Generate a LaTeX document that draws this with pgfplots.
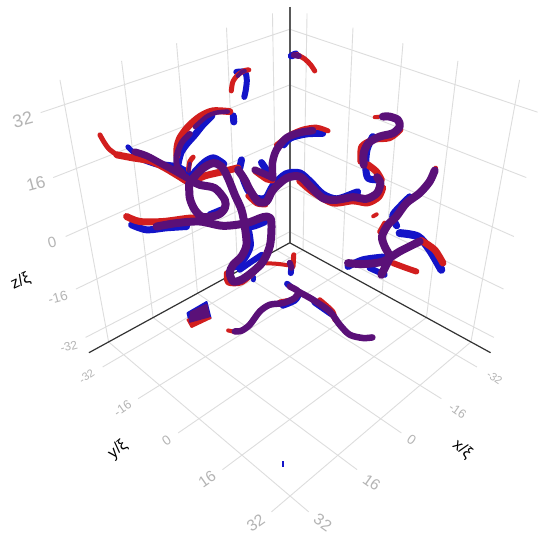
\documentclass[border=0pt]{standalone}
\usepackage{pgfplots}
\pgfplotsset{compat=1.18}
\usepackage{fontspec}
\setmainfont{Liberation Sans}
\definecolor{gr}{HTML}{DDDDDD}
\definecolor{tk}{HTML}{B4B4B4}
\definecolor{bl}{HTML}{1414C8}
\definecolor{rd}{HTML}{D21E1E}
\definecolor{pu}{HTML}{5A1078}
\pgfplotsset{
 g/.style={gr,line width=0.9pt,forget plot},
 ax/.style={color=black!80,line width=1.2pt,forget plot},
 B/.style={bl,line width=#1pt,smooth,tension=0.5,line cap=round,line join=round,forget plot},
 R/.style={rd,line width=#1pt,smooth,tension=0.5,line cap=round,line join=round,forget plot},
 P/.style={pu,line width=#1pt,smooth,tension=0.5,line cap=round,line join=round,forget plot},
}
\begin{document}
\begin{tikzpicture}
\begin{axis}[scale only axis,width=538pt,height=535pt,xmin=0,xmax=538,ymin=0,ymax=535,y dir=reverse,axis lines=none,clip=false]
\addplot[fill=white,draw=none,forget plot] coordinates {(0,0)(538,0)(538,535)(0,535)} -- cycle;
% floor
\addplot[g] coordinates {(309,512.3)(108.7,342.2)};
\addplot[g] coordinates {(357.3,470)(153.2,317.8)};
\addplot[g] coordinates {(401.7,433.3)(197.6,293.5)};
\addplot[g] coordinates {(441.7,399)(237.8,271.6)};
\addplot[g] coordinates {(477.3,367.3)(276.7,250.3)};
\addplot[g] coordinates {(271.7,512.3)(471.3,342.2)};
\addplot[g] coordinates {(222.7,470)(426.8,317.8)};
\addplot[g] coordinates {(178.3,433.3)(382.4,293.5)};
\addplot[g] coordinates {(138.3,399)(342.2,271.6)};
\addplot[g] coordinates {(102.7,367.3)(303.3,250.3)};
% left wall
\addplot[g] coordinates {(108.7,342.2)(60,80)};
\addplot[g] coordinates {(153.2,317.8)(121.7,61)};
\addplot[g] coordinates {(197.6,293.5)(176.7,43.3)};
\addplot[g] coordinates {(237.8,271.6)(226.7,27.7)};
\addplot[g] coordinates {(276.7,250.3)(272.7,13.3)};
\addplot[g] coordinates {(40.7,112.7)(290,29.3)};
\addplot[g] coordinates {(53.3,177.7)(290,85)};
\addplot[g] coordinates {(65.7,236.7)(290,137)};
\addplot[g] coordinates {(76,289.3)(290,186)};
\addplot[g] coordinates {(85.7,337.7)(290,232)};
% right wall
\addplot[g] coordinates {(471.3,342.2)(520,80)};
\addplot[g] coordinates {(426.8,317.8)(458.3,61)};
\addplot[g] coordinates {(382.4,293.5)(403.3,43.3)};
\addplot[g] coordinates {(342.2,271.6)(353.3,27.7)};
\addplot[g] coordinates {(303.3,250.3)(307.3,13.3)};
\addplot[g] coordinates {(538,112.3)(290,29.3)};
\addplot[g] coordinates {(526.7,177.7)(290,85)};
\addplot[g] coordinates {(514.3,236.7)(290,137)};
\addplot[g] coordinates {(504,289.3)(290,186)};
\addplot[g] coordinates {(494.3,337.7)(290,232)};
% axes
\addplot[color=black!65,line width=1.6pt,forget plot] coordinates {(290,7)(290,243)};
\addplot[ax] coordinates {(290,243)(89,353)};
\addplot[ax] coordinates {(290,243)(491,353)};
% blue
\addplot[B=7] coordinates {(212,116)(203,125)(195,135)(187,144)(181,153)(178,165)};
\addplot[B=7] coordinates {(233.5,116)(234,122)};
\addplot[B=5] coordinates {(128,147)(133,152)(140,158)};
\addplot[B=7] coordinates {(140,158)(156.7,164)(176.7,167)(190,174)};
\addplot[B=7] coordinates {(195,172)(205,162)(214,158)(224,164)};
\addplot[B=7] coordinates {(241.7,160)(240,168)};
\addplot[B=7] coordinates {(243,178)(248,190)(256,198)(266,198)(273,186)(286,174)(300,173)(311,182)(323,194)(337,199)(355,193)(358,192)};
\addplot[B=7] coordinates {(373,136.7)(367.3,150)(366,166.7)(368.3,178.3)(378.3,180)};
\addplot[B=7] coordinates {(284,145)(291,138)(307,134)(323,133.5)};
\addplot[B=7] coordinates {(261.7,162.7)(266.7,170)};
\addplot[B=7] coordinates {(131.7,225)(146.7,230)(166.7,228)(186.7,226.7)};
\addplot[B=7] coordinates {(210,215)(222,210)};
\addplot[B=7] coordinates {(249,232)(250.5,246)(245,258)(236,267)};
\addplot[B=6] coordinates {(240,270)(250,263)(262,255)};
\addplot[B=7] coordinates {(245,228)(255,226)(265,222)};
\addplot[B=5] coordinates {(253.3,277)(253.3,280)};
\addplot[B=6] coordinates {(291.7,266.7)(291,273.3)};
\addplot[B=6] coordinates {(236.5,72)(245,72)(247,80)(246,90)(244.5,97)};
\addplot[B=7] coordinates {(291.5,56)(296,54)};
\addplot[B=6] coordinates {(287.3,284)(291,287)};
\addplot[B=6] coordinates {(283,306)(295,301)(299,295)};
\addplot[B=6.5] coordinates {(314.8,302.5)(331.5,314.2)};
\addplot[B=7] coordinates {(410,197)(400,207)(393,216)(397,226)};
\addplot[B=8] coordinates {(400,233.3)(418.3,236.7)(430,250)(441.7,270)};
\addplot[B=7] coordinates {(348.3,266.7)(363.3,260)(383.3,257.3)};
\addplot[B=6] coordinates {(370,268.3)(385,275)};
\addplot[bl,line width=2pt,forget plot] coordinates {(283.7,461.7)(283.7,467.3)};
\addplot[bl,fill=bl,line width=2pt,line join=round,forget plot] coordinates {(187.7,313.3)(206.7,302.3)(210.7,318.3)(190,323.3)} -- cycle;
% red
\addplot[R=7] coordinates {(230,111.7)(213,111)(200,116.7)(188.3,126.7)(180,138)(177.3,146.7)(177,156)};
\addplot[R=5] coordinates {(100,135)(104,142)(109,149)(117,155)};
\addplot[R=7] coordinates {(117,155)(133,158)(150,161)(165,168)(180,177)(190,182)(205,176)(222,172)(238,168)};
\addplot[R=5] coordinates {(193.3,157.3)(190,161.7)(188.7,170)};
\addplot[R=5] coordinates {(248,196)(257,204)(266,205)};
\addplot[R=7] coordinates {(300,181)(313,192)(333,203)(353,201)(368,203)(379,197)(383,188)};
\addplot[R=4] coordinates {(375,117.3)(390,115.7)};
\addplot[R=6] coordinates {(360.7,161.7)(361.7,146.7)(373,140)(390,138.3)(400.7,130)};
\addplot[R=7] coordinates {(368.3,165)(376.7,171.7)(381.7,180)};
\addplot[R=5] coordinates {(276.7,145)(290,135)(303,129.3)(316.7,127.3)(328.3,131)};
\addplot[R=5] coordinates {(255,171.7)(266.7,180)(273,181)};
\addplot[R=7] coordinates {(126.7,216.7)(140,221.7)(163.3,221.7)(190,218.3)(203,219)};
\addplot[R=5] coordinates {(226.7,273)(228,283)(241.7,283)(255,272)};
\addplot[R=4] coordinates {(261.7,263.3)(276.7,264)(290,265.7)};
\addplot[R=5] coordinates {(294,255)(293.3,266.7)};
\addplot[R=5] coordinates {(231.5,91)(233,82)(238,75)(245,70.5)(249,70)};
\addplot[R=5] coordinates {(297,54.5)(305,59)(311,65)(315,71)};
\addplot[R=4] coordinates {(228.3,330.7)(236,332.5)};
\addplot[R=4] coordinates {(280,301.7)(290,300)};
\addplot[R=5] coordinates {(320,300)(333,311.7)(335,320)};
\addplot[R=4] coordinates {(368,339)(372.7,338)};
\addplot[R=5] coordinates {(436,168.3)(431,180)(421,192)};
\addplot[R=7] coordinates {(421.7,240.7)(435,250)(443.3,263.3)};
\addplot[R=6] coordinates {(393.3,263.3)(406.7,268.3)(416.7,271.7)};
\addplot[R=5] coordinates {(385,223.3)(380,232)};
\addplot[R=5] coordinates {(381.5,272)(382,276)};
\addplot[R=4] coordinates {(373.5,216.5)(377,214.5)};
\addplot[rd,fill=rd,line width=2pt,line join=round,forget plot] coordinates {(187.7,320)(198,318)(210.7,318.3)(191.7,327.3)} -- cycle;
% purple
\addplot[P=4.5] coordinates {(228,111.7)(216.7,112.7)(206.7,116.7)(195,127)};
\addplot[P=6] coordinates {(190,134)(181.7,143)(176.7,156.7)(177.3,166.7)(183,173)};
\addplot[P=7] coordinates {(135,152)(147,156)(160,163)(173,170)(187,178)};
\addplot[P=8] coordinates {(193.3,178.3)(203.3,168.3)(213.3,163.3)(221.7,166.7)(228.3,178.3)(235,195)(241.7,210)(245,226.7)(246.7,245)(241.7,256.7)(233.3,265)(230,273.3)(233.3,281.7)(241.7,280)(253.3,271.7)(263.3,261.7)(270,246.7)(271.7,230)(270.7,218.3)(263.3,217.3)(246.7,223.3)(223.3,226)(200,221.7)(176.7,223.3)(156.7,226.7)};
\addplot[P=8] coordinates {(190,180)(200,185)(215,188.3)(225,200)(225,208.3)(218.3,215)(203.3,217.3)(195,210)(190,198.3)(189.3,183.3)};
\addplot[P=3.5] coordinates {(190,163.3)(188.7,171.7)};
\addplot[P=8] coordinates {(238.3,170)(245,180)(250,190)(258.3,201.7)(266.7,201.7)(273.3,190)(286.7,178.3)(300,176.7)(310,186)(323.3,198.3)(336.7,200)(353.3,197.3)(366.7,199)(377.3,193.3)(380.7,183.3)(377.3,177.3)};
\addplot[P=8] coordinates {(364,165)(364,153)(369,143)(380,136.7)(393.3,133.3)(400,126.7)(398.3,120)(390,116.7)(383.3,116.7)};
\addplot[P=7.5] coordinates {(273,178)(272.7,163)(276.7,150)(286.7,138)(300,132.7)(313,130.7)};
\addplot[P=7] coordinates {(255,170)(266.7,175)(273.3,178.3)};
\addplot[P=6] coordinates {(290,263)(291.7,268)};
\addplot[P=4] coordinates {(238,76)(242,72)(245,71)};
\addplot[P=6] coordinates {(294,55)(299,56)};
\addplot[P=6.5] coordinates {(235,331.7)(241.7,331)(250,325)(260,311.7)(270,305)(283.3,303.3)(295,298.3)(298.3,291.7)(290,286.7)};
\addplot[P=6.5] coordinates {(298.3,291.7)(313.3,300)(330,311.7)(340,325)(350,335)(363.3,338.3)(372.7,337.7)};
\addplot[P=8] coordinates {(435,170.7)(430,181.7)(420,193.3)(406.7,203.3)(396.7,216.7)(388.3,225)(382.3,236.7)(385,246.7)(390,256.7)(386.7,265)(381.7,275)};
\addplot[P=8] coordinates {(348.3,263.3)(363.3,264.3)(383.3,261.7)(400,251.7)(420,241.7)};
\addplot[pu,fill=pu,line width=2pt,line join=round,forget plot] coordinates {(191,312.5)(206.7,305)(209.3,316.7)(190,322)} -- cycle;
% tick labels
\node[text=tk,rotate=15,font=\fontsize{18}{18}\selectfont] at (axis cs:22.7,120) {32};
\node[text=tk,rotate=15,font=\fontsize{17}{17}\selectfont] at (axis cs:36,184) {16};
\node[text=tk,rotate=15,font=\fontsize{15}{15}\selectfont] at (axis cs:52,243) {0};
\node[text=tk,rotate=15,font=\fontsize{13.5}{13.5}\selectfont] at (axis cs:58,298) {-16};
\node[text=tk,rotate=15,font=\fontsize{12}{12}\selectfont] at (axis cs:69,347) {-32};
\node[text=tk,rotate=35,font=\fontsize{11}{11}\selectfont] at (axis cs:86.7,376.7) {-32};
\node[text=tk,rotate=35,font=\fontsize{12.5}{12.5}\selectfont] at (axis cs:122.7,409) {-16};
\node[text=tk,rotate=35,font=\fontsize{13.5}{13.5}\selectfont] at (axis cs:166.7,440.7) {0};
\node[text=tk,rotate=35,font=\fontsize{15.5}{15.5}\selectfont] at (axis cs:207.3,480) {16};
\node[text=tk,rotate=35,inner sep=0pt,font=\fontsize{16}{16}\selectfont] at (axis cs:256,523) {32};
\node[text=tk,rotate=-35,font=\fontsize{11}{11}\selectfont] at (axis cs:495,378) {-32};
\node[text=tk,rotate=-35,font=\fontsize{12.5}{12.5}\selectfont] at (axis cs:458,411) {-16};
\node[text=tk,rotate=-35,font=\fontsize{13.5}{13.5}\selectfont] at (axis cs:412,440.7) {0};
\node[text=tk,rotate=-35,font=\fontsize{15.5}{15.5}\selectfont] at (axis cs:372,483) {16};
\node[text=tk,rotate=-35,inner sep=0pt,font=\fontsize{16}{16}\selectfont] at (axis cs:323,523) {32};
% axis labels
\node[text=black,rotate=40,inner sep=0pt,font=\fontsize{16}{16}\selectfont] at (axis cs:118,450) {y/ξ};
\node[text=black,rotate=-40,inner sep=0pt,font=\fontsize{16}{16}\selectfont] at (axis cs:462.7,450) {x/ξ};
\node[text=black,rotate=25,inner sep=0pt,font=\fontsize{16}{16}\selectfont] at (axis cs:20.7,281.7) {z/ξ};
\end{axis}
\end{tikzpicture}
\end{document}
